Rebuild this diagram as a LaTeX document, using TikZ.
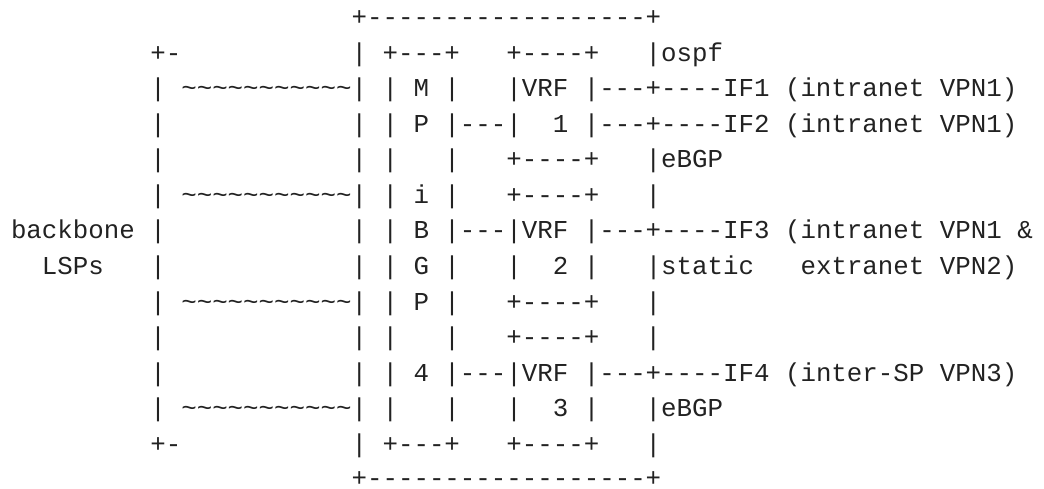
\documentclass[tikz,border=0pt]{standalone}
\usepackage{fontspec}
\setmonofont{Liberation Mono}
\newcommand\tld{\textasciitilde}
\definecolor{ink}{HTML}{222222}
\tikzset{
  asciiline/.style={anchor=base west, inner sep=0pt, outer sep=0pt,
    font=\ttfamily\fontsize{25.8pt}{35.5pt}\selectfont, text=ink}
}
\begin{document}
\begin{tikzpicture}[x=1pt,y=1pt]
\useasboundingbox (0,0) rectangle (1044,-489);
\def\xo{11}
\node[asciiline] (l1)  at (\xo,-25.6)  {~~~~~~~~~~~~~~~~~~~~~~+------------------+};
\node[asciiline] (l2)  at (\xo,-61.2)  {~~~~~~~~~+-~~~~~~~~~~~|~+---+~~~+----+~~~|ospf};
\node[asciiline] (l3)  at (\xo,-96.8)  {~~~~~~~~~|~\tld\tld\tld\tld\tld\tld\tld\tld\tld\tld\tld|~|~M~|~~~|VRF~|---+----IF1~(intranet~VPN1)};
\node[asciiline] (l4)  at (\xo,-132.3) {~~~~~~~~~|~~~~~~~~~~~~|~|~P~|---|~~1~|---+----IF2~(intranet~VPN1)};
\node[asciiline] (l5)  at (\xo,-167.9) {~~~~~~~~~|~~~~~~~~~~~~|~|~~~|~~~+----+~~~|eBGP};
\node[asciiline] (l6)  at (\xo,-203.4) {~~~~~~~~~|~\tld\tld\tld\tld\tld\tld\tld\tld\tld\tld\tld|~|~i~|~~~+----+~~~|};
\node[asciiline] (l7)  at (\xo,-239.0) {backbone~|~~~~~~~~~~~~|~|~B~|---|VRF~|---+----IF3~(intranet~VPN1~\&};
\node[asciiline] (l8)  at (\xo,-274.6) {~~LSPs~~~|~~~~~~~~~~~~|~|~G~|~~~|~~2~|~~~|static~~~extranet~VPN2)};
\node[asciiline] (l9)  at (\xo,-310.1) {~~~~~~~~~|~\tld\tld\tld\tld\tld\tld\tld\tld\tld\tld\tld|~|~P~|~~~+----+~~~|};
\node[asciiline] (l10) at (\xo,-345.7) {~~~~~~~~~|~~~~~~~~~~~~|~|~~~|~~~+----+~~~|};
\node[asciiline] (l11) at (\xo,-381.2) {~~~~~~~~~|~~~~~~~~~~~~|~|~4~|---|VRF~|---+----IF4~(inter-SP~VPN3)};
\node[asciiline] (l12) at (\xo,-416.8) {~~~~~~~~~|~\tld\tld\tld\tld\tld\tld\tld\tld\tld\tld\tld|~|~~~|~~~|~~3~|~~~|eBGP};
\node[asciiline] (l13) at (\xo,-452.4) {~~~~~~~~~+-~~~~~~~~~~~|~+---+~~~+----+~~~|};
\node[asciiline] (l14) at (\xo,-486.9) {~~~~~~~~~~~~~~~~~~~~~~+------------------+};
\end{tikzpicture}
\end{document}
